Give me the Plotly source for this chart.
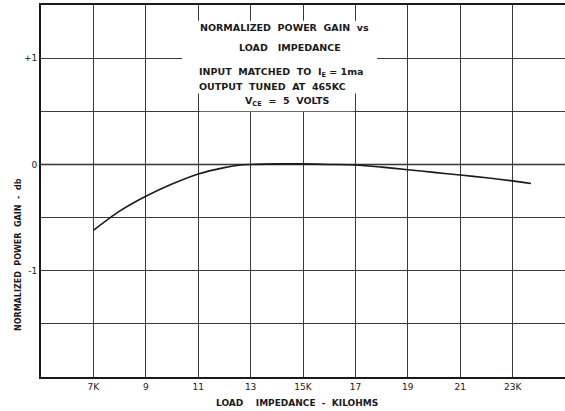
import plotly.graph_objects as go

# Data
load_kohm = [7, 8, 9, 10, 11, 12, 12.6, 13, 14, 15, 16, 17, 18, 19, 20, 21, 22, 23, 23.7]
gain_db = [-0.62, -0.44, -0.30, -0.185, -0.09, -0.03, -0.005, 0.0, 0.005, 0.005, 0.0, -0.005, -0.025, -0.05, -0.075, -0.10, -0.125, -0.155, -0.18]

x_tickvals = [7, 9, 11, 13, 15, 17, 19, 21, 23]
x_ticktext = ["7K", "9", "11", "13", "15K", "17", "19", "21", "23K"]
y_tickvals = [-1, 0, 1]
y_ticktext = ["-1", "0", "+1"]
y_minor_grid = [-1.5, -0.5, 0.5]

FONT = "DejaVu Sans"
INK = "#1a1a1a"
GRID = "#3a3a3a"

W, H = 565, 411
L, R, T, B = 41, 0, 5, 34
pw, ph = W - L - R, H - T - B

fig = go.Figure()
fig.add_trace(go.Scatter(
    x=load_kohm, y=gain_db, mode="lines",
    line=dict(color=INK, width=1.6, shape="spline", smoothing=0.8),
    showlegend=False, hoverinfo="skip",
))

# zero line emphasized
fig.add_shape(type="line", xref="x", yref="y", x0=5, x1=25, y0=0, y1=0,
              line=dict(color=INK, width=1.6), layer="below")

# white boxes behind the title block
fig.add_shape(type="rect", xref="x", yref="y", x0=10.38, x1=17.83, y0=0.667, y1=1.352,
              fillcolor="white", line=dict(width=0), layer="above")
fig.add_shape(type="rect", xref="x", yref="y", x0=11.07, x1=16.93, y0=0.5, y1=0.68,
              fillcolor="white", line=dict(width=0), layer="above")


def ann(txt, px, py, anchor, size=9.5):
    fig.add_annotation(
        x=(px - L) / pw, y=1 - (py - T) / ph, xref="paper", yref="paper",
        text=txt, showarrow=False, xanchor=anchor, yanchor="middle",
        font=dict(family=FONT, size=size, color=INK),
    )

ann("<b>NORMALIZED  POWER  GAIN  vs</b>", 284, 28, "center")
ann("<b>LOAD   IMPEDANCE</b>", 290, 47, "center")
ann("<b>INPUT  MATCHED  TO  I<sub>E</sub> = 1ma</b>", 197, 72, "left")
ann("<b>OUTPUT  TUNED  AT  465KC</b>", 197, 86, "left")
ann("<b>V<sub>CE</sub>  =  5  VOLTS</b>", 243, 101, "left")

# axis titles
ann("<b>LOAD    IMPEDANCE  -  KILOHMS</b>", 297, 403, "center", size=9)
fig.add_annotation(
    x=(19 - L) / pw, y=1 - (255 - T) / ph, xref="paper", yref="paper",
    text="<b>NORMALIZED  POWER  GAIN  -  db</b>", textangle=-90, showarrow=False,
    xanchor="center", yanchor="middle", font=dict(family=FONT, size=8, color=INK),
)

fig.update_xaxes(
    range=[5, 25], tickvals=x_tickvals, ticktext=x_ticktext,
    showgrid=True, gridcolor=GRID, gridwidth=1,
    showline=True, linecolor=INK, linewidth=2, mirror=True,
    ticks="", zeroline=False,
    tickfont=dict(family=FONT, size=9, color=INK),
)
fig.update_yaxes(
    range=[-2, 1.5], tickvals=y_tickvals, ticktext=y_ticktext,
    showgrid=True, gridcolor=GRID, gridwidth=1,
    minor=dict(tickvals=y_minor_grid, showgrid=True, gridcolor=GRID, gridwidth=1, ticks=""),
    showline=True, linecolor=INK, linewidth=2, mirror=False,
    ticks="", zeroline=False,
    tickfont=dict(family=FONT, size=9, color=INK),
)
fig.update_layout(
    width=W, height=H,
    margin=dict(l=L, r=R, t=T, b=B, pad=0),
    paper_bgcolor="white", plot_bgcolor="white",
    showlegend=False,
)

fig.write_html("out.html", config={"displayModeBar": False},
               post_script="document.body.style.margin='0';document.body.style.overflow='hidden';")
